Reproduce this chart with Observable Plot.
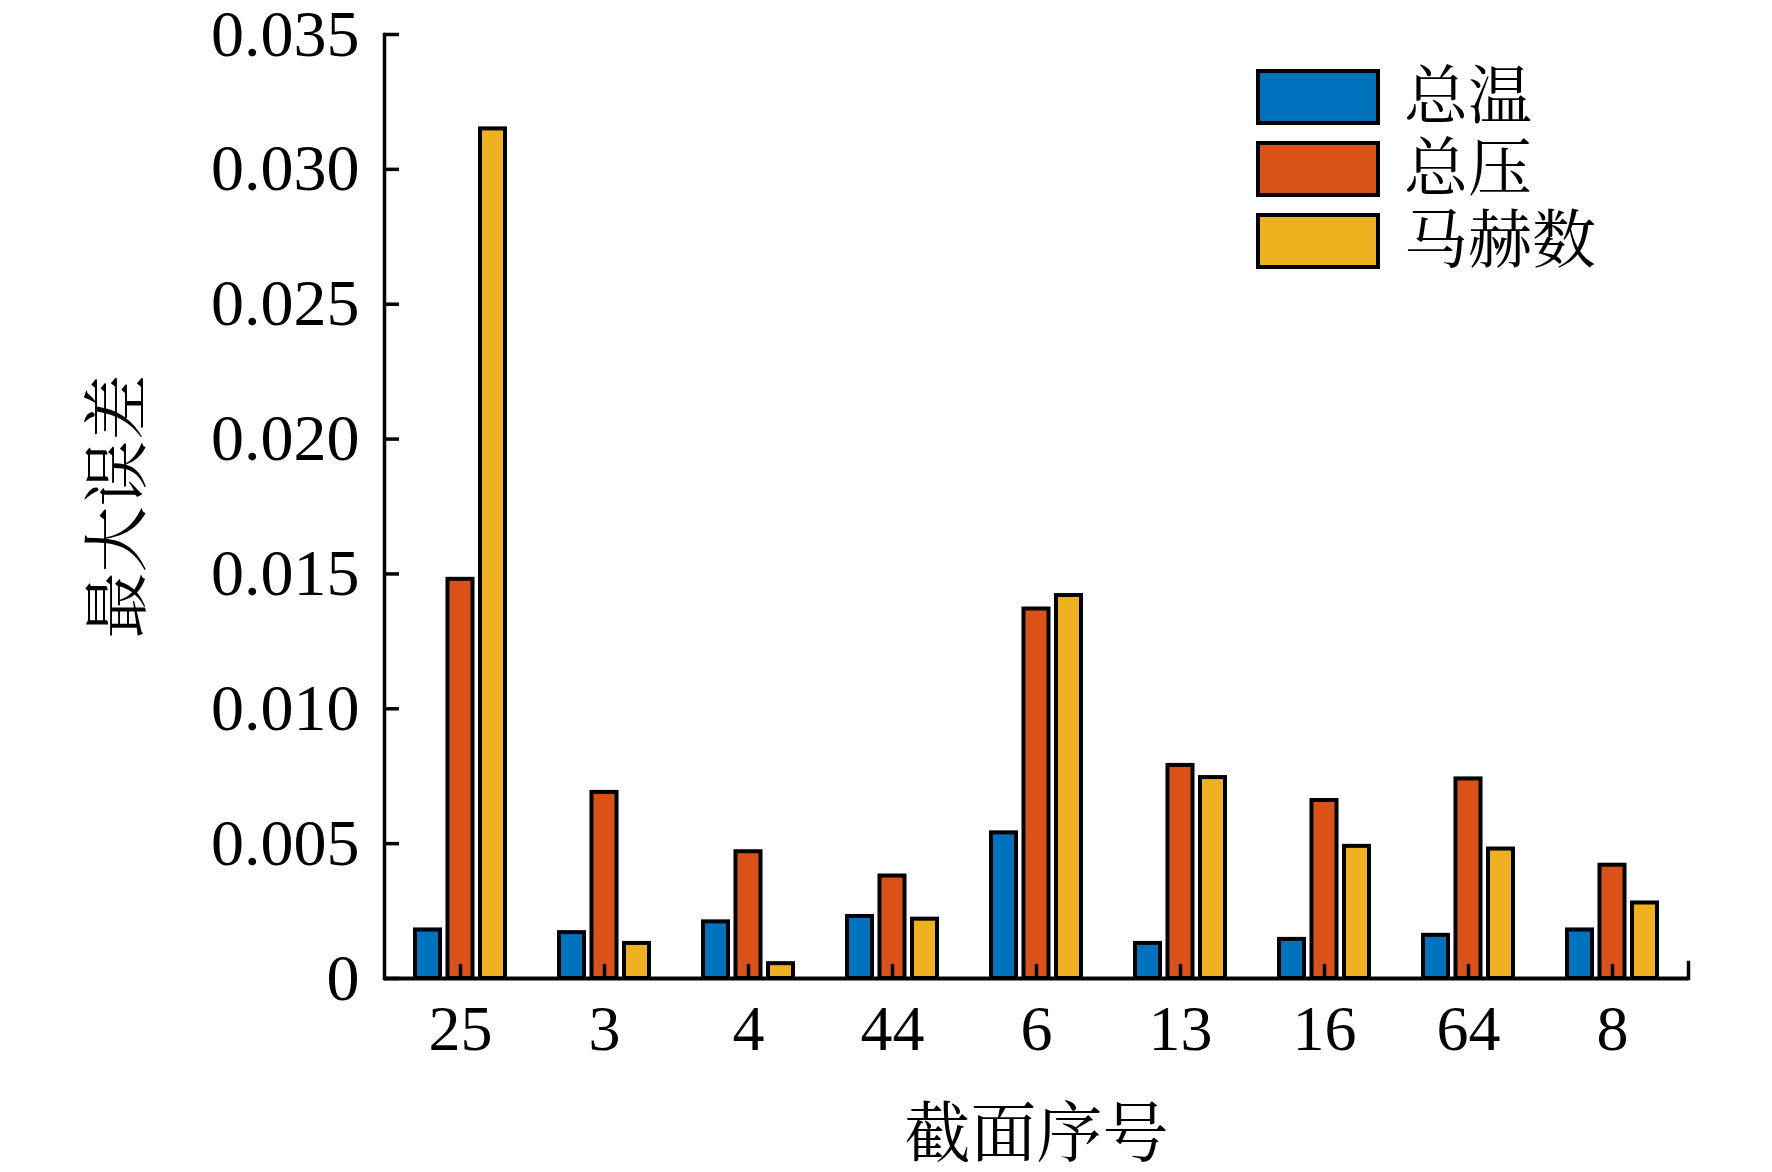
<!DOCTYPE html>
<html>
<head>
<meta charset="utf-8">
<script src="https://cdn.jsdelivr.net/npm/d3@7"></script>
<script src="https://cdn.jsdelivr.net/npm/@observablehq/plot@0.6"></script>
<style>
  html, body { margin: 0; padding: 0; background: #ffffff; }
  #wrap { position: relative; width: 1772px; height: 1172px; background: #fff; }
  #legend { position: absolute; left: 1256px; top: 61px; font-family: 'Liberation Serif', 'Noto Serif CJK SC', 'Noto Sans CJK SC', serif; }
  .row { display: flex; align-items: center; height: 72px; }
  .sw { width: 124px; height: 56px; box-sizing: border-box; border: 4px solid #000; }
  .lab { margin-left: 24px; font-size: 64px; line-height: 56px; color: #000; }
</style>
</head>
<body>
<div id="wrap"><div id="chart"></div><div id="legend"></div></div>
<script>
// ---- data ----
const sections   = ["25", "3", "4", "44", "6", "13", "16", "64", "8"];
const seriesNames = ["总温", "总压", "马赫数"];
const colors     = ["#0072BD", "#D95319", "#EDB120"];
const totalTemp  = [0.0018, 0.0017, 0.0021, 0.0023, 0.0054, 0.0013, 0.00145, 0.0016, 0.0018];
const totalPress = [0.0148, 0.0069, 0.0047, 0.0038, 0.0137, 0.0079, 0.0066, 0.0074, 0.0042];
const machNum    = [0.0315, 0.0013, 0.00055, 0.0022, 0.0142, 0.00745, 0.0049, 0.0048, 0.0028];
const yTicks     = [0, 0.005, 0.010, 0.015, 0.020, 0.025, 0.030, 0.035];
const xTitle = "截面序号";
const yTitle = "最大误差";

const rows = sections.map((s, i) => ({section: s, t: totalTemp[i], p: totalPress[i], m: machNum[i]}));
const seriesKeys = ["t", "p", "m"];
const offsets = [-32.5, 0, 32.5];

const barMarks = seriesKeys.map((k, j) =>
  Plot.barY(rows, {
    x: "section", y: k, fill: colors[j], stroke: "#000", strokeWidth: 4,
    insetLeft: 59.5, insetRight: 59.5, dx: offsets[j]
  })
);

const chart = Plot.plot({
  width: 1772,
  height: 1172,
  marginLeft: 384,
  marginRight: 84,
  marginTop: 34,
  marginBottom: 194,
  style: {
    fontFamily: "'Liberation Serif', 'Times New Roman', 'Noto Serif CJK SC', 'Noto Sans CJK SC', serif",
    fontSize: "64px",
    color: "#000",
    background: "#fff",
    overflow: "visible"
  },
  x: {type: "band", domain: sections, padding: 0},
  y: {domain: [0, 0.035]},
  marks: [
    ...barMarks,
    Plot.ruleY([0], {stroke: "#000", strokeWidth: 4}),
    Plot.frame({anchor: "left", stroke: "#000", strokeWidth: 3.5}),
    Plot.frame({anchor: "right", stroke: "#000", strokeWidth: 3.5, insetTop: 928}),
    Plot.tickX(sections, {x: d => d, stroke: "#000", strokeWidth: 3.5, insetTop: 930}),
    Plot.tickY(yTicks, {y: d => d, stroke: "#000", strokeWidth: 3.5, insetRight: 1289}),
    Plot.axisX({tickSize: 0, tickPadding: 26, fontSize: 64, label: null}),
    Plot.axisY({ticks: yTicks, tickSize: 0, tickPadding: 25, fontSize: 66, label: null,
      tickFormat: d => d === 0 ? "0" : d.toFixed(3)}),
    Plot.text([xTitle], {frameAnchor: "bottom", dy: 156, fontSize: 66, lineAnchor: "middle", textAnchor: "middle",
      fontFamily: "'Noto Serif CJK SC', 'Noto Sans CJK SC', serif"}),
    Plot.text([yTitle], {frameAnchor: "left", dx: -266, rotate: -90, fontSize: 66, lineAnchor: "middle", textAnchor: "middle",
      fontFamily: "'Noto Serif CJK SC', 'Noto Sans CJK SC', serif"})
  ]
});
document.getElementById("chart").appendChild(chart);

// legend built from the series arrays
const legend = d3.select("#legend");
seriesNames.forEach((name, i) => {
  const row = legend.append("div").attr("class", "row");
  row.append("div").attr("class", "sw").style("background", colors[i]);
  row.append("div").attr("class", "lab").text(name);
});
</script>
</body>
</html>
